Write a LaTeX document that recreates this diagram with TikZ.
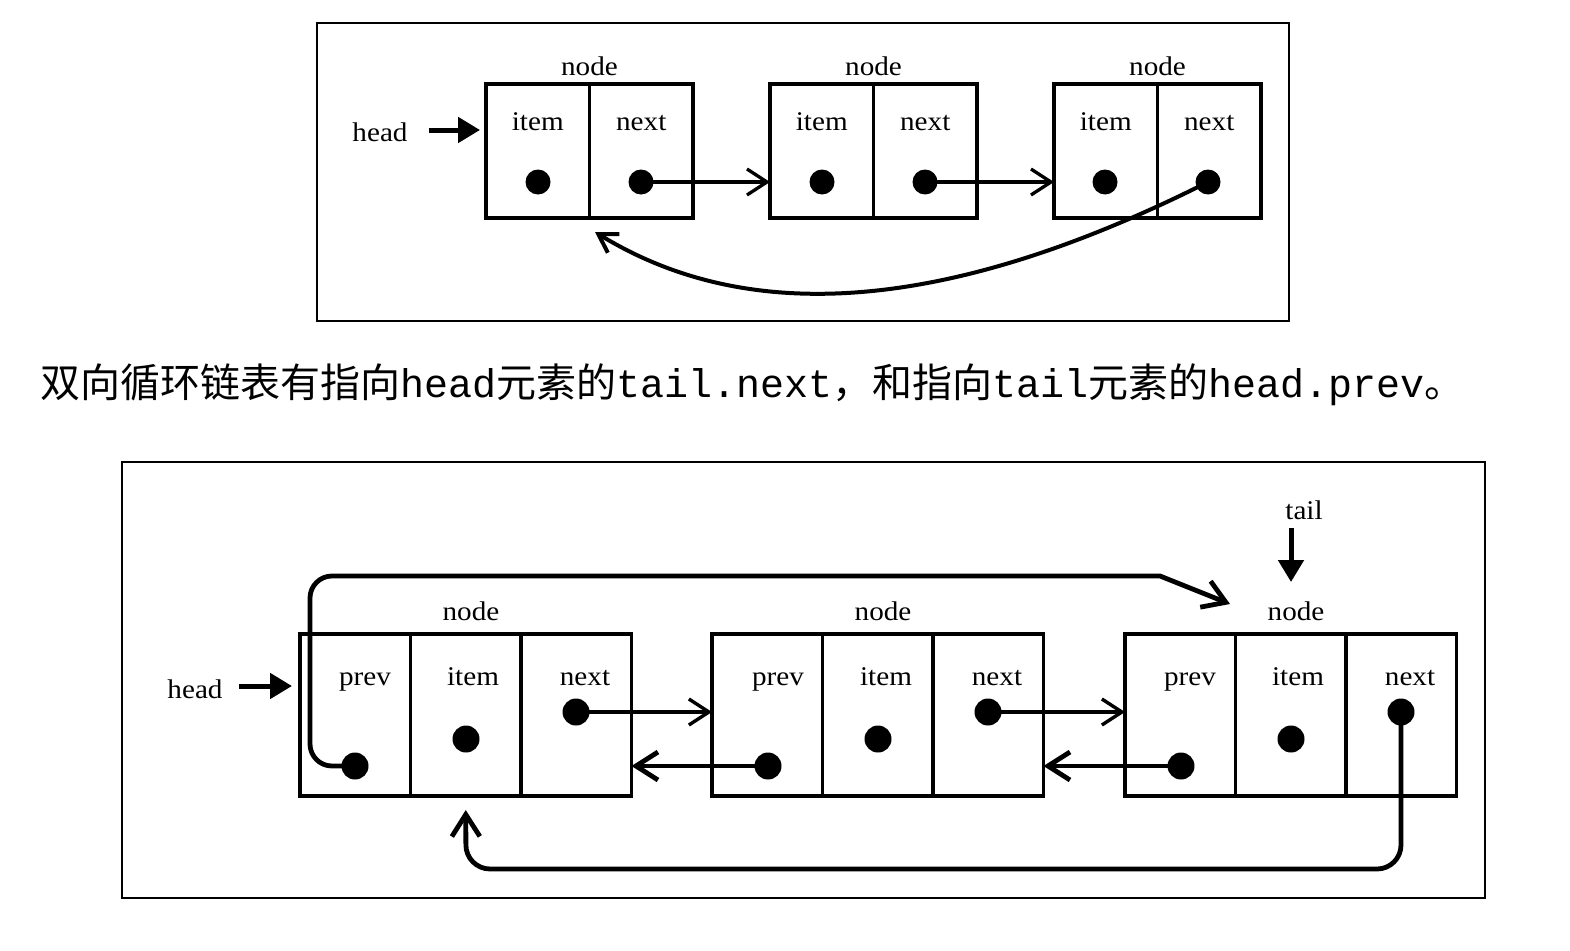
\documentclass[tikz,border=0pt]{standalone}
\usepackage{fontspec}
\setmainfont{Liberation Serif}[FakeStretch=1.08]
\setmonofont{Liberation Mono}
\newfontfamily\cjk{Noto Sans CJK SC}
\usetikzlibrary{arrows.meta}

\tikzset{
  frame/.style={line width=2.4pt},
  scell/.style={draw, line width=3.3pt, inner sep=0pt, outer sep=0pt, minimum width=103.5pt, minimum height=134pt},
  dcell/.style={draw, line width=3.6pt, inner sep=0pt, outer sep=0pt, minimum width=110.5pt, minimum height=162pt},
  dot/.style={circle, fill, inner sep=0pt, outer sep=0pt, minimum size=#1},
  txt/.style={font=\fontsize{27pt}{30pt}\selectfont, anchor=base, inner sep=0pt},
  ptr/.style={line width=5pt, -{Triangle[length=22pt,width=25pt]}},
  link/.style={line width=#1, -{Straight Barb[length=20pt,width=26pt]}},
  loopback/.style={line width=4.8pt, -{Straight Barb[length=22pt,width=28pt]}},
}

\begin{document}
\begin{tikzpicture}[x=1pt,y=-1pt]
  \useasboundingbox (0,0) rectangle (1570,950);

  % singly linked, circular
  \draw[frame] (317,23) rectangle (1289,321);
  \node[scell] (s1item) at (537.75,151) {};
  \node[scell] (s1next) at (641.25,151) {};
  \node[scell] (s2item) at (821.75,151) {};
  \node[scell] (s2next) at (925.25,151) {};
  \node[scell] (s3item) at (1105.75,151) {};
  \node[scell] (s3next) at (1209.25,151) {};
  \node[txt] (s1node) at (589.5,75) {node};
  \node[txt] (s2node) at (873.5,75) {node};
  \node[txt] (s3node) at (1157.5,75) {node};
  \node[txt] (s1itemtxt) at (537.75,130) {item};
  \node[txt] (s1nexttxt) at (641.25,130) {next};
  \node[txt] (s2itemtxt) at (821.75,130) {item};
  \node[txt] (s2nexttxt) at (925.25,130) {next};
  \node[txt] (s3itemtxt) at (1105.75,130) {item};
  \node[txt] (s3nexttxt) at (1209.25,130) {next};
  \node[dot=25pt] (s1i) at (538,182) {};
  \node[dot=25pt] (s1n) at (641,182) {};
  \node[dot=25pt] (s2i) at (822,182) {};
  \node[dot=25pt] (s2n) at (925,182) {};
  \node[dot=25pt] (s3i) at (1105,182) {};
  \node[dot=25pt] (s3n) at (1208,182) {};
  \node[txt] (shead) at (380,141) {head};
  \draw[ptr] (shead.east |- 0,130) ++(21pt,0) -- ([xshift=-6pt]s1item.west |- 0,130);
  \draw[link=3.3pt] (s1n.center) -- (s1n -| s2item.west);
  \draw[link=3.3pt] (s2n.center) -- (s2n -| s3item.west);
  \coordinate (sback) at (595,232);
  \draw[line width=4pt, -{Straight Barb[length=18pt,width=22pt]}] (s3n.center) .. controls (914,330) and (727,313) .. (sback);

  % the caption
  \node[anchor=base west, inner sep=0pt, font=\fontsize{40pt}{48pt}\selectfont] (note) at (40,397)
    {{\cjk 双向循环链表有指向}\texttt{head}{\cjk 元素的}\texttt{tail.next}{\cjk ，和指向}\texttt{tail}{\cjk 元素的}\texttt{head.prev}{\cjk 。}};

  % doubly linked, circular
  \draw[frame] (122,462) rectangle (1485,898);
  \node[dcell] (d1prev) at (355.25,715) {};
  \node[dcell] (d1item) at (465.75,715) {};
  \node[dcell] (d1next) at (576.25,715) {};
  \node[dcell] (d2prev) at (767.25,715) {};
  \node[dcell] (d2item) at (877.75,715) {};
  \node[dcell] (d2next) at (988.25,715) {};
  \node[dcell] (d3prev) at (1180.25,715) {};
  \node[dcell] (d3item) at (1290.75,715) {};
  \node[dcell] (d3next) at (1401.25,715) {};
  \node[txt] (d1node) at (471,620) {node};
  \node[txt] (d2node) at (883,620) {node};
  \node[txt] (d3node) at (1296,620) {node};
  \node[txt] (d1prevtxt) at (365,685) {prev};
  \node[txt] (d1itemtxt) at (473,685) {item};
  \node[txt] (d1nexttxt) at (585,685) {next};
  \node[txt] (d2prevtxt) at (778,685) {prev};
  \node[txt] (d2itemtxt) at (886,685) {item};
  \node[txt] (d2nexttxt) at (997,685) {next};
  \node[txt] (d3prevtxt) at (1190,685) {prev};
  \node[txt] (d3itemtxt) at (1298,685) {item};
  \node[txt] (d3nexttxt) at (1410,685) {next};
  \node[dot=27pt] (d1p) at (355,766) {};
  \node[dot=27pt] (d1i) at (466,739) {};
  \node[dot=27pt] (d1n) at (576,712) {};
  \node[dot=27pt] (d2p) at (768,766) {};
  \node[dot=27pt] (d2i) at (878,739) {};
  \node[dot=27pt] (d2n) at (988,712) {};
  \node[dot=27pt] (d3p) at (1181,766) {};
  \node[dot=27pt] (d3i) at (1291,739) {};
  \node[dot=27pt] (d3n) at (1401,712) {};
  \node[txt] (dhead) at (195,698) {head};
  \draw[ptr] (dhead.east |- 0,686) ++(16pt,0) -- ([xshift=-8pt]d1prev.west |- 0,686);
  \node[txt] (dtail) at (1304,519) {tail};
  \coordinate (tailtip) at (1291,582);
  \draw[ptr] (tailtip |- dtail.south) ++(0,9) -- (tailtip);
  \draw[link=3.4pt] (d1n.center) -- (d1n -| d2prev.west);
  \draw[link=3.4pt] (d2n.center) -- (d2n -| d3prev.west);
  \draw[loopback] (d2p.center) -- (d2p -| d1next.east);
  \draw[loopback] (d3p.center) -- (d3p -| d2next.east);
  \coordinate (tailin) at (1230,604);
  \draw[loopback, rounded corners=22pt] (d1p.center) -- (310,766) -- (310,576) [sharp corners] -- (1160,576) -- (tailin);
  \draw[loopback, rounded corners=24pt] (d3n.center) -- (d3n |- 0,869) -- (d1i |- 0,869) -- ([yshift=-14pt]d1item.south);
\end{tikzpicture}
\end{document}
